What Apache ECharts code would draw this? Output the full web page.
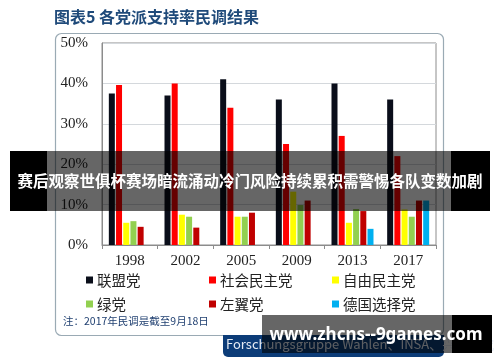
<!DOCTYPE html>
<html><head><meta charset="utf-8">
<script src="https://cdn.jsdelivr.net/npm/echarts@6/dist/echarts.min.js"></script>
<style>html,body{margin:0;padding:0;background:#fff}#c{width:500px;height:362px}</style>
</head><body><div id="c"></div>
<script>
const categories = ['1998','2002','2005','2009','2013','2017'];
const seriesNames = ['联盟党','社会民主党','自由民主党','绿党','左翼党','德国选择党'];
const cdu    = [37.5, 37.0, 41.0, 36.0, 40.0, 36.0];
const spd    = [39.6, 40.0, 34.0, 25.0, 27.0, 22.0];
const fdp    = [5.5, 7.5, 7.0, 13.2, 5.5, 8.8];
const greens = [5.9, 7.0, 7.0, 9.9, 8.9, 7.0];
const leftP  = [4.5, 4.3, 8.0, 11.0, 8.4, 11.0];
const afd    = ['-', '-', '-', '-', 4.0, 11.0];
const yMin = 0, yMax = 50, yStep = 10;

const colors = ['#0a0e1a','#ff0000','#ffff00','#92d050','#c00000','#00b0f0'];
const values = [cdu, spd, fdp, greens, leftP, afd];

const chart = echarts.init(document.getElementById('c'), null, {renderer:'canvas'});
const serif = 'Liberation Serif, Times New Roman, serif';
const cjk = 'Noto Sans CJK SC';

function legendCol(names, leftPx){
  return {
    data: names, orient:'vertical', left:leftPx, top:267,
    icon:'rect', itemWidth:7, itemHeight:7, itemGap:8,
    selectedMode:false,
    textStyle:{fontFamily:cjk, fontSize:14.5, color:'#222', lineHeight:16, padding:[0,0,0,-1]}
  };
}

const option = {
  backgroundColor:'#fff',
  animation:false,
  color: colors,
  grid:{left:102, right:64, top:43, bottom:117, show:true, borderColor:'#8c8c8c', borderWidth:1, backgroundColor:'transparent'},
  legend:[
    legendCol([seriesNames[0], seriesNames[3]], 81),
    legendCol([seriesNames[1], seriesNames[4]], 204),
    legendCol([seriesNames[2], seriesNames[5]], 327)
  ],
  xAxis:{
    type:'category', data:categories,
    axisLine:{lineStyle:{color:'#8c8c8c'}},
    axisTick:{show:true, length:4, lineStyle:{color:'#8c8c8c'}},
    axisLabel:{fontFamily:serif, fontSize:15, color:'#222', margin:9}
  },
  yAxis:{
    type:'value', min:yMin, max:yMax, interval:yStep,
    axisLine:{show:true, lineStyle:{color:'#8c8c8c'}},
    axisTick:{show:false},
    splitLine:{lineStyle:{color:'#d4d8dc'}},
    axisLabel:{formatter:'{value}%', fontFamily:serif, fontSize:15, color:'#222', margin:14}
  },
  series: seriesNames.map((n,i)=>({
    name:n, type:'bar', data:values[i], barWidth:6, barGap:'20%',
    itemStyle:{color:colors[i]}
  })),
  graphic:[
    {type:'rect', z:1, shape:{x:55.5,y:33.5,width:388,height:302,r:6}, style:{fill:'none', stroke:'#9aaab4', lineWidth:1.2}},
    {type:'text', z:5, left:54, top:9, style:{text:'图表5 各党派支持率民调结果', fill:'#1f4a7a', font:'bold 16px "Noto Sans CJK SC"'}},
    {type:'text', z:5, left:63, top:316, style:{text:'注：2017年民调是截至9月18日', fill:'#1f3f70', font:'10.5px "Noto Sans CJK SC"'}},
    {type:'rect', z:5, shape:{x:223,y:335,width:221,height:22,r:[0,0,5,5]}, style:{fill:'#0c3c78'}},
    {type:'text', z:6, left:226, top:338, style:{text:'Forschungsgruppe Wahlen、INSA、兴业研究', fill:'#e6ecf5', font:'13px "Noto Sans CJK SC"'}},
    {type:'rect', z:100, shape:{x:10,y:151,width:37,height:60}, style:{fill:'#000'}},
    {type:'rect', z:100, shape:{x:47,y:151,width:404,height:60}, style:{fill:'rgba(0,0,0,0.6)'}},
    {type:'rect', z:100, shape:{x:451,y:151,width:39,height:60}, style:{fill:'#000'}},
    {type:'text', z:101, x:250, y:181, style:{text:'赛后观察世俱杯赛场暗流涌动冷门风险持续累积需警惕各队变数加剧', fill:'#fff', font:'bold 15.5px "Noto Sans CJK SC"', align:'center', verticalAlign:'middle'}},
    {type:'rect', z:100, shape:{x:262,y:315,width:190,height:38}, style:{fill:'rgba(0,0,0,0.6)'}},
    {type:'rect', z:100, shape:{x:452,y:315,width:40,height:38}, style:{fill:'#000'}},
    {type:'text', z:101, x:376, y:335, style:{text:'www.zhcns--9games.com', fill:'#fff', font:'bold 17px "Noto Sans"', align:'center', verticalAlign:'middle'}}
  ]
};
chart.setOption(option);
</script></body></html>
